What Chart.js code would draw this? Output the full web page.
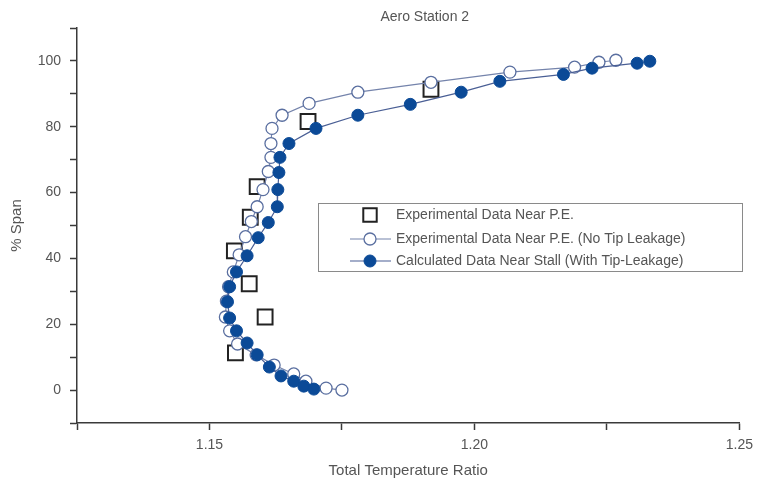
<!DOCTYPE html>
<html>
<head>
<meta charset="utf-8">
<script src="https://cdn.jsdelivr.net/npm/chart.js@4.4.1/dist/chart.umd.min.js"></script>
<style>
  html, body { margin: 0; padding: 0; background: #fff; }
</style>
</head>
<body>
<canvas id="aeroChart" width="760" height="484"></canvas>
<script>
// Experimental Data Near P.E. (squares)
const expRatio = [1.1918, 1.1686, 1.1590, 1.1577, 1.1547, 1.1575, 1.1605, 1.1549];
const expSpan  = [91.4, 81.6, 61.8, 52.5, 42.3, 32.3, 22.2, 11.3];

// Experimental Data Near P.E. (No Tip Leakage) - open circles
const noTipRatio = [1.2267, 1.2235, 1.2189, 1.2067, 1.1918, 1.1780, 1.1688, 1.1637, 1.1618, 1.1616,
                    1.1616, 1.1611, 1.1601, 1.1590, 1.1579, 1.1568, 1.1556, 1.1545, 1.1536, 1.1532,
                    1.1530, 1.1538, 1.1553, 1.1588, 1.1622, 1.1659, 1.1682, 1.1720, 1.1750];
const noTipSpan  = [100.2, 99.6, 98.1, 96.6, 93.5, 90.5, 87.1, 83.5, 79.5, 74.9,
                    70.7, 66.4, 60.9, 55.7, 51.2, 46.6, 41.1, 35.9, 31.4, 27.0,
                    22.2, 18.0, 14.0, 10.7, 7.6, 4.9, 2.7, 0.6, 0.0];

// Calculated Data Near Stall (With Tip-Leakage) - filled circles
const calcRatio = [1.2331, 1.2307, 1.2222, 1.2168, 1.2048, 1.1975, 1.1879, 1.1780, 1.1701, 1.1650,
                   1.1633, 1.1631, 1.1629, 1.1628, 1.1611, 1.1592, 1.1571, 1.1551, 1.1538, 1.1534,
                   1.1538, 1.1551, 1.1571, 1.1590, 1.1613, 1.1635, 1.1659, 1.1678, 1.1697];
const calcSpan  = [99.9, 99.3, 97.8, 95.9, 93.8, 90.5, 86.8, 83.5, 79.5, 74.9,
                   70.7, 66.1, 60.9, 55.7, 50.9, 46.3, 40.8, 35.9, 31.4, 26.8,
                   21.9, 18.0, 14.3, 10.7, 7.0, 4.3, 2.7, 1.2, 0.3];

const xLabelValues = [1.15, 1.20, 1.25];
const yLabelValues = [0, 20, 40, 60, 80, 100];

function toPoints(xs, ys) {
    return xs.map((x, i) => ({ x: x, y: ys[i] }));
}

const textColor = "#555";
const axisColor = "#3a3a3a";

Chart.defaults.font.family = "Arial, 'Liberation Sans', sans-serif";
Chart.defaults.color = textColor;

// title drawn a bit right of centre, as in the original
const titlePlugin = {
    id: "aeroTitle",
    afterDraw(chart) {
        const ctx = chart.ctx;
        const ca = chart.chartArea;
        ctx.save();
        ctx.font = "14px Arial, 'Liberation Sans', sans-serif";
        ctx.fillStyle = textColor;
        ctx.textAlign = "center";
        ctx.textBaseline = "middle";
        ctx.fillText("Aero Station 2", ca.left + ca.width * 0.525, 17);
        ctx.restore();
    }
};

// boxed legend inside the plot area
const boxLegend = {
    id: "boxLegend",
    afterDraw(chart) {
        const ctx = chart.ctx;
        const ca = chart.chartArea;
        const left = ca.left + 241;
        const top = ca.top + 175;
        const w = 424, h = 68;
        ctx.save();
        ctx.strokeStyle = "#8a8a8a";
        ctx.lineWidth = 1;
        ctx.strokeRect(Math.round(left) + 0.5, Math.round(top) + 0.5, w, h);

        const rows = [top + 12, top + 36, top + 58];
        const order = [2, 1, 0]; // dataset index for each legend row
        const mx = left + 52;
        rows.forEach((ry, r) => {
            const ds = chart.data.datasets[order[r]];
            if (ds.showLine) {
                ctx.strokeStyle = ds.borderColor;
                ctx.lineWidth = ds.borderWidth;
                ctx.beginPath();
                ctx.moveTo(mx - 20, ry);
                ctx.lineTo(mx + 21, ry);
                ctx.stroke();
            }
            ctx.fillStyle = ds.pointBackgroundColor;
            ctx.strokeStyle = ds.pointBorderColor;
            ctx.lineWidth = ds.pointBorderWidth;
            Chart.helpers.drawPoint(ctx, {
                pointStyle: ds.pointStyle,
                radius: ds.pointStyle === "rect" ? 9.5 : ds.pointRadius,
                rotation: 0,
                borderWidth: ds.pointBorderWidth
            }, mx, ry);
            ctx.fillStyle = textColor;
            ctx.font = "14px Arial, 'Liberation Sans', sans-serif";
            ctx.textAlign = "left";
            ctx.textBaseline = "middle";
            ctx.fillText(ds.label, left + 78, ry);
        });
        ctx.restore();
    }
};

function isNear(v, list) {
    return list.some(t => Math.abs(t - v) < 1e-6);
}

new Chart(document.getElementById("aeroChart"), {
    type: "scatter",
    data: {
        datasets: [
            {
                label: "Calculated Data Near Stall (With Tip-Leakage)",
                data: toPoints(calcRatio, calcSpan),
                showLine: true,
                borderColor: "#4a5f95",
                borderWidth: 1.2,
                pointStyle: "circle",
                pointRadius: 6,
                pointBackgroundColor: "#0b4a97",
                pointBorderColor: "#0b4a97",
                pointBorderWidth: 1,
                order: 0
            },
            {
                label: "Experimental Data Near P.E. (No Tip Leakage)",
                data: toPoints(noTipRatio, noTipSpan),
                showLine: true,
                borderColor: "#7483ab",
                borderWidth: 1.2,
                pointStyle: "circle",
                pointRadius: 6,
                pointBackgroundColor: "#ffffff",
                pointBorderColor: "#5a6fa0",
                pointBorderWidth: 1.3,
                order: 1
            },
            {
                label: "Experimental Data Near P.E.",
                data: toPoints(expRatio, expSpan),
                showLine: false,
                borderColor: "#222",
                pointStyle: "rect",
                pointRadius: 10.5,
                pointBackgroundColor: "rgba(255,255,255,0)",
                pointBorderColor: "#222",
                pointBorderWidth: 2,
                order: 2
            }
        ]
    },
    options: {
        responsive: false,
        animation: false,
        layout: { padding: { left: 0, right: 17, top: 28, bottom: 0 } },
        plugins: {
            legend: { display: false },
            title: { display: false },
            tooltip: { enabled: false }
        },
        scales: {
            x: {
                type: "linear",
                min: 1.125,
                max: 1.25,
                afterFit(scale) { scale.height = 61; },
                border: { display: true, color: axisColor, width: 1.5 },
                grid: {
                    drawOnChartArea: false,
                    drawTicks: true,
                    tickLength: 7,
                    tickColor: axisColor,
                    tickWidth: 1.5
                },
                ticks: {
                    stepSize: 0.025,
                    padding: 7,
                    color: textColor,
                    font: { size: 14 },
                    maxRotation: 0,
                    autoSkip: false,
                    callback(v) { return isNear(v, xLabelValues) ? v.toFixed(2) : ""; }
                },
                title: {
                    display: true,
                    text: "Total Temperature Ratio",
                    color: textColor,
                    font: { size: 15 },
                    padding: { top: 0, bottom: 4 }
                }
            },
            y: {
                type: "linear",
                min: -10,
                max: 110,
                afterFit(scale) { scale.width = 77; },
                border: { display: true, color: axisColor, width: 1.5 },
                grid: {
                    drawOnChartArea: false,
                    drawTicks: true,
                    tickLength: 7,
                    tickColor: axisColor,
                    tickWidth: 1.5
                },
                ticks: {
                    stepSize: 10,
                    padding: 9,
                    color: textColor,
                    font: { size: 14 },
                    autoSkip: false,
                    callback(v) { return isNear(v, yLabelValues) ? String(v) : ""; }
                },
                title: {
                    display: true,
                    text: "% Span",
                    color: textColor,
                    font: { size: 15 },
                    padding: { top: 8, bottom: 0 }
                }
            }
        }
    },
    plugins: [titlePlugin, boxLegend]
});
</script>
</body>
</html>
